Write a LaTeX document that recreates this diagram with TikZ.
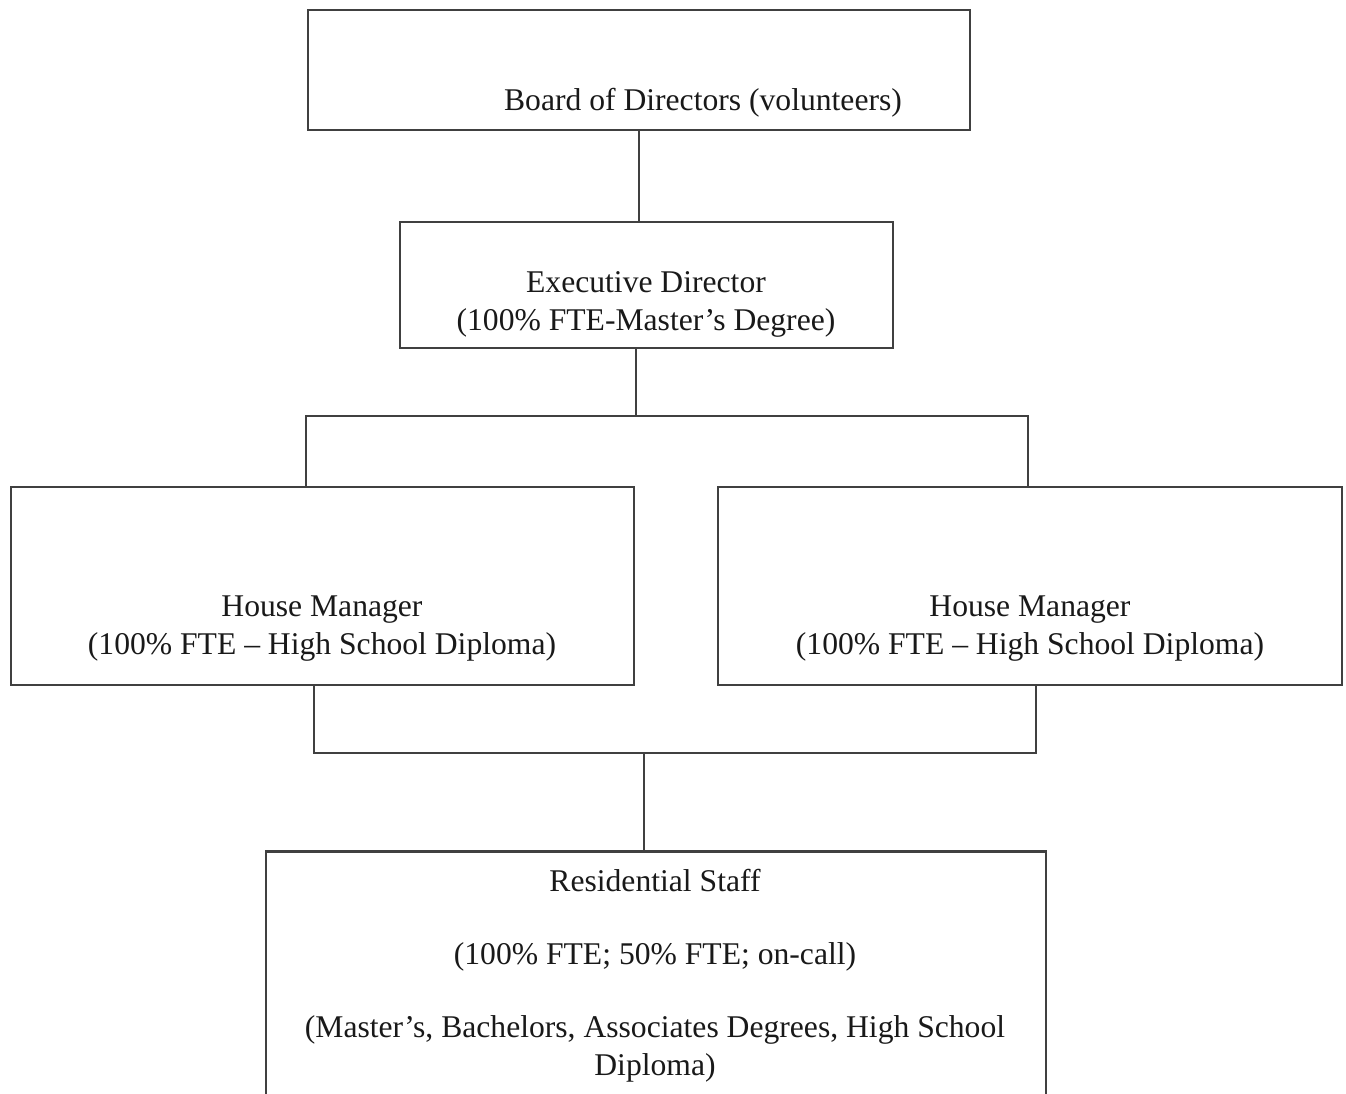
\documentclass[tikz,border=0pt]{standalone}
\usepackage{fontspec}
\setmainfont{Liberation Serif}
\usepackage{tikz}

\begin{document}
\begin{tikzpicture}[x=0.02cm, y=-0.02cm]
\tikzstyle{box} = [rectangle, draw = black!75, line width = 1.4pt]
\tikzstyle{txt} = [text = black!90, align = center, font = \fontsize{18}{21.6}\selectfont]
\tikzstyle{edge} = [draw = black!75, line width = 1.4pt]
\useasboundingbox (0, 0) rectangle (1346, 1094);
% boxes
\node[box, minimum width = 13.24cm, minimum height = 2.4cm] (board) at (639, 70) {};
\node[box, minimum width = 9.86cm, minimum height = 2.52cm] (exec) at (646.5, 285) {};
\node[box, minimum width = 12.46cm, minimum height = 3.96cm] (hmL) at (322.5, 586) {};
\node[box, minimum width = 12.48cm, minimum height = 3.96cm] (hmR) at (1030, 586) {};
\node[box, minimum width = 15.6cm, minimum height = 4.9cm] (staff) at (656, 974) {};
% texts
\node[txt] (boardtxt) at (703, 103) {Board of Directors (volunteers)};
\node[txt] (exectxt) at (646, 304) {Executive Director\\(100\% FTE-Master’s Degree)};
\node[txt] (hmLtxt) at (322, 629) {House Manager\\(100\% FTE – High School Diploma)};
\node[txt] (hmRtxt) at (1030, 629) {House Manager\\(100\% FTE – High School Diploma)};
\node[txt] (stafftxt) at (655, 976) {Residential Staff\\[20pt](100\% FTE; 50\% FTE; on-call)\\[20pt](Master’s, Bachelors, Associates Degrees, High School\\Diploma)};
% junctions
\coordinate (j1) at (636, 416);
\coordinate (j2) at (644, 753);
\draw[edge] (board.south) -- (board.south |- exec.north);
\draw[edge] (exec.south -| j1) -- (j1);
\draw[edge] ([xshift = -0.33cm]hmL.north) |- (j1) -| ([xshift = -0.04cm]hmR.north);
\draw[edge] ([xshift = -0.17cm]hmL.south) |- (j2) -| ([xshift = 0.12cm]hmR.south);
\draw[edge] (j2) -- (j2 |- staff.north);
\end{tikzpicture}
\end{document}
